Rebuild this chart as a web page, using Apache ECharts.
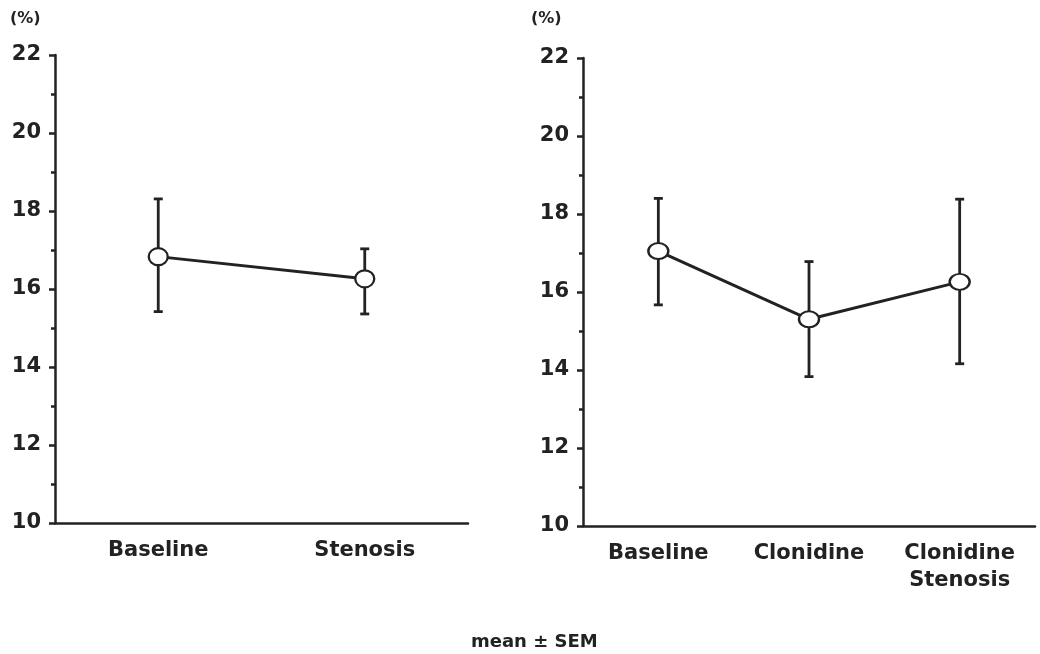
<!DOCTYPE html>
<html>
<head>
<meta charset="utf-8">
<script src="https://cdn.jsdelivr.net/npm/echarts@6/dist/echarts.min.js"></script>
<style>
  html, body { margin: 0; padding: 0; background: #fff; }
  #chart { width: 1040px; height: 654px; }
</style>
</head>
<body>
<div id="chart"></div>
<script>
// data (mean and mean +/- SEM)
var leftCats = ['Baseline', 'Stenosis'];
var leftMean = [16.83, 16.26];
var leftLow = [15.42, 15.36];
var leftHigh = [18.31, 17.03];

var rightCats = ['Baseline', 'Clonidine', 'Clonidine\nStenosis'];
var rightMean = [17.05, 15.3, 16.26];
var rightLow = [15.67, 13.83, 14.16];
var rightHigh = [18.4, 16.78, 18.38];

var yTicks = [10, 12, 14, 16, 18, 20, 22];

var ink = '#222';
var font = 'DejaVu Sans';

function errData(low, high) {
    var out = [];
    for (var i = 0; i < low.length; i++) out.push([i, low[i], high[i]]);
    return out;
}

function renderErr(params, api) {
    var x = api.value(0);
    var lo = api.coord([x, api.value(1)]);
    var hi = api.coord([x, api.value(2)]);
    var cap = 4.5;
    var st = { stroke: ink, lineWidth: 2.8 };
    return {
        type: 'group',
        children: [
            { type: 'line', shape: { x1: lo[0], y1: lo[1], x2: hi[0], y2: hi[1] }, style: st },
            { type: 'line', shape: { x1: lo[0] - cap, y1: lo[1], x2: lo[0] + cap, y2: lo[1] }, style: st },
            { type: 'line', shape: { x1: hi[0] - cap, y1: hi[1], x2: hi[0] + cap, y2: hi[1] }, style: st }
        ]
    };
}

function xAxisFor(idx, cats) {
    return {
        type: 'category',
        gridIndex: idx,
        data: cats,
        boundaryGap: true,
        axisLine: { lineStyle: { color: ink, width: 2.5 } },
        axisTick: { alignWithLabel: true, length: 5, lineStyle: { color: ink, width: 2.5 } },
        axisLabel: {
            color: ink, fontFamily: font, fontWeight: 'bold', fontSize: 21,
            margin: 14, lineHeight: 27, interval: 0
        },
        splitLine: { show: false }
    };
}

function yAxisFor(idx) {
    return {
        type: 'value',
        gridIndex: idx,
        min: yTicks[0],
        max: yTicks[yTicks.length - 1],
        interval: 2,
        axisLine: { show: true, lineStyle: { color: ink, width: 2.5 } },
        axisTick: { show: true, length: 6, lineStyle: { color: ink, width: 2.5 } },
        minorTick: { show: true, splitNumber: 2, length: 4, lineStyle: { color: ink, width: 2.5 } },
        axisLabel: { color: ink, fontFamily: font, fontWeight: 'bold', fontSize: 21, margin: 14 },
        splitLine: { show: false },
        minorSplitLine: { show: false }
    };
}

var chart = echarts.init(document.getElementById('chart'));

var option = {
    backgroundColor: '#fff',
    animation: false,
    grid: [
        { left: 55, right: 572, top: 55, bottom: 131 },
        { left: 583, right: 5, top: 58, bottom: 128 }
    ],
    xAxis: [xAxisFor(0, leftCats), xAxisFor(1, rightCats)],
    yAxis: [yAxisFor(0), yAxisFor(1)],
    graphic: [
        { type: 'text', left: 10, top: 11, style: { text: '(%)', fill: ink, font: 'bold 16px "DejaVu Sans"' } },
        { type: 'text', left: 531, top: 11, style: { text: '(%)', fill: ink, font: 'bold 16px "DejaVu Sans"' } },
        { type: 'text', left: 471, top: 633, style: { text: 'mean \u00b1 SEM', fill: ink, font: 'bold 18px "DejaVu Sans"' } }
    ],
    series: [
        {
            type: 'custom', xAxisIndex: 0, yAxisIndex: 0,
            data: errData(leftLow, leftHigh), renderItem: renderErr, z: 2
        },
        {
            type: 'line', xAxisIndex: 0, yAxisIndex: 0, data: leftMean,
            symbol: 'circle', symbolSize: [19, 17],
            lineStyle: { color: ink, width: 3 },
            itemStyle: { color: '#fff', borderColor: ink, borderWidth: 2.2 },
            z: 3
        },
        {
            type: 'custom', xAxisIndex: 1, yAxisIndex: 1,
            data: errData(rightLow, rightHigh), renderItem: renderErr, z: 2
        },
        {
            type: 'line', xAxisIndex: 1, yAxisIndex: 1, data: rightMean,
            symbol: 'circle', symbolSize: [20, 16],
            lineStyle: { color: ink, width: 3 },
            itemStyle: { color: '#fff', borderColor: ink, borderWidth: 2.2 },
            z: 3
        }
    ]
};

chart.setOption(option);
</script>
</body>
</html>
